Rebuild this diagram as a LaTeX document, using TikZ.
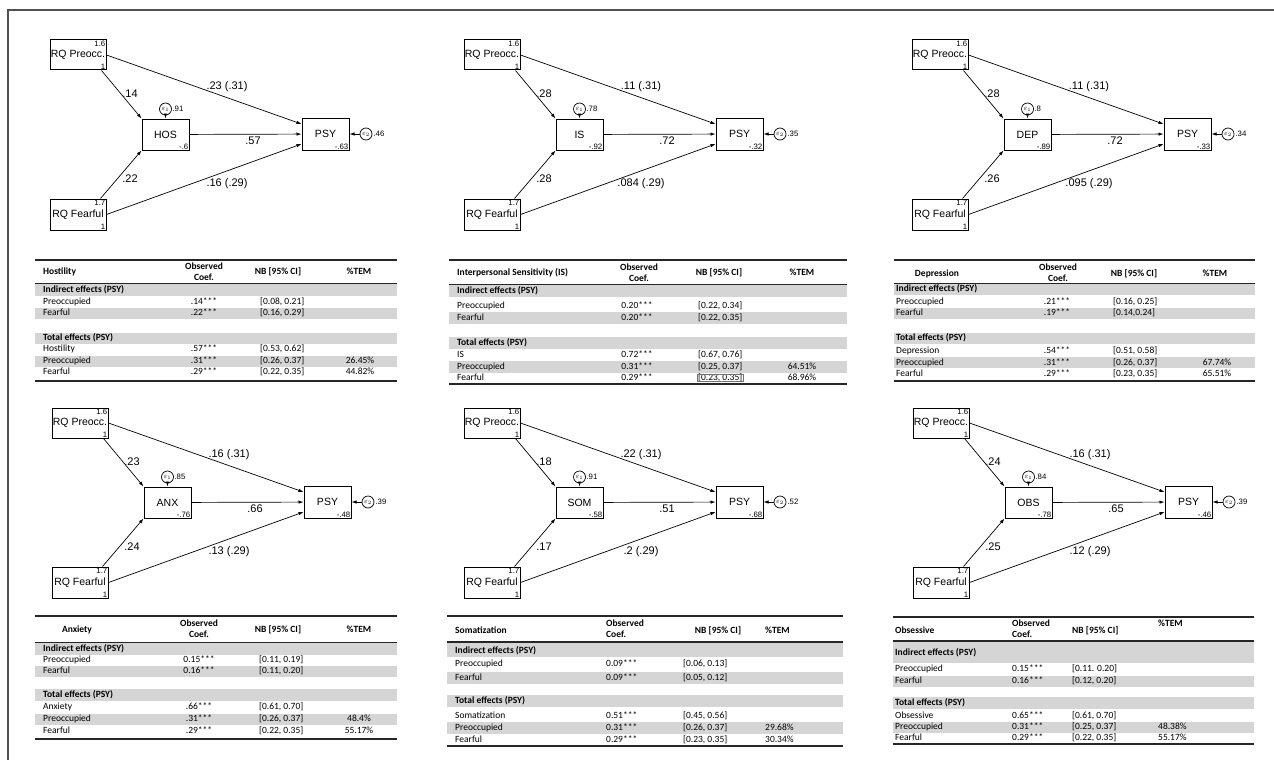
\documentclass[tikz,border=0pt]{standalone}
\usepackage{fontspec}
\setmainfont{Carlito}
\newfontfamily\statafont{Liberation Sans}
\usetikzlibrary{arrows.meta}
\usetikzlibrary{positioning}

\definecolor{bandgray}{HTML}{D5D5D5}
\definecolor{framegray}{HTML}{505050}

\tikzset{
  var/.style={draw, line width=1pt, inner sep=0pt, font=\statafont\fontsize{10.5}{12}\selectfont},
  corner/.style={inner sep=1pt, font=\statafont\fontsize{7.8}{8}\selectfont},
  errc/.style={draw, circle, line width=0.7pt, minimum size=12pt, inner sep=0pt, font=\fontsize{7}{7}\selectfont},
  coef/.style={inner sep=0pt, font=\statafont\fontsize{11}{12}\selectfont},
  conn/.style={line width=0.7pt, arrows=-{Latex[length=5pt,width=3.4pt]}},
  cell/.style={inner sep=0pt, text height=6.5pt, text depth=2pt, font=\fontsize{9.5}{11}\selectfont},
  hd/.style={cell, font=\fontsize{9.5}{11}\selectfont\bfseries},
  hdm/.style={inner sep=0pt, font=\fontsize{9.5}{11}\selectfont\bfseries},
  band/.style={fill=bandgray},
  toprule/.style={line width=1.3pt, draw=black!85},
  midrule/.style={line width=0.9pt, draw=black!85},
}

\begin{document}
\begin{tikzpicture}[x=1pt, y=-1pt]
  \fill[white] (0,0) rectangle (1274,760);
  \useasboundingbox (0,0) rectangle (1274,760);
  \draw[framegray, line width=1.5pt] (8,760) -- (8,10) -- (1274,10);

  % path models
  \foreach \ox/\oy/\mname/\mint/\pint/\eone/\etwo/\pam/\fam/\pdir/\fdir/\mps in {
      0/0/HOS/-.6/-.63/.91/.46/.14/.22/.23 (.31)/.16 (.29)/.57,
      414/0/IS/-.92/-.32/.78/.35/.28/.28/.11 (.31)/.084 (.29)/.72,
      862/0/DEP/-.89/-.33/.8/.34/.28/.26/.11 (.31)/.095 (.29)/.72,
      2/368/ANX/-.76/-.48/.85/.39/.23/.24/.16 (.31)/.13 (.29)/.66,
      414/368/SOM/-.58/-.68/.91/.52/.18/.17/.22 (.31)/.2 (.29)/.51,
      863/368/OBS/-.78/-.46/.84/.39/.24/.25/.16 (.31)/.12 (.29)/.65}{
    \begin{scope}[shift={(\ox,\oy)}]
      \node[var, minimum width=56pt, minimum height=30pt] (pre) at (78,55) {RQ Preocc.};
      \node[var, minimum width=56pt, minimum height=31pt] (fear) at (78,214.5) {RQ Fearful};
      \node[var, minimum width=47pt, minimum height=31pt] (med) at (165.5,134.5) {\mname};
      \node[var, minimum width=47pt, minimum height=32pt] (psy) at (325.5,134) {PSY};
      \node[corner, anchor=north east] (pre-m) at (pre.north east) {1.6};
      \node[corner, anchor=south east] (pre-v) at (pre.south east) {1};
      \node[corner, anchor=north east] (fear-m) at (fear.north east) {1.7};
      \node[corner, anchor=south east] (fear-v) at (fear.south east) {1};
      \node[corner, anchor=south east] (med-c) at (med.south east) {\mint};
      \node[corner, anchor=south east] (psy-c) at (psy.south east) {\pint};
      \node[errc] (e1) at (165.5,109) {$\varepsilon_1$};
      \node[errc] (e2) at (366,134) {$\varepsilon_2$};
      \node[corner, anchor=west, inner sep=0.5pt] (e1-v) at (e1.east) {\eone};
      \node[corner, anchor=west] (e2-v) at (e2.east) {\etwo};
      \draw[conn] (e1) -- (med);
      \draw[conn] (e2) -- (psy);
      \draw[conn] ([xshift=-5pt]pre.south east) -- (med.north west);
      \draw[conn] ([xshift=-6pt]fear.north east) -- (med.south west);
      \draw[conn] (pre.east) -- ([yshift=10pt]psy.west);
      \draw[conn] (fear.east) -- ([yshift=-10pt]psy.west);
      \draw[conn] (med) -- (psy);
      \node[coef] (l-pm) at (130,94) {\pam};
      \node[coef] (l-fm) at (130,179) {\fam};
      \node[coef] (l-pp) at (227,87) {\pdir};
      \node[coef] (l-fp) at (227,184) {\fdir};
      \node[coef] (l-mp) at (253,141) {\mps};
    \end{scope}}

  % Hostility
  \fill[band] (35,284) rectangle (397,295.5);
  \fill[band] (35,307.5) rectangle (397,318.5);
  \fill[band] (35,332.5) rectangle (397,343.5);
  \fill[band] (35,355.5) rectangle (397,366.5);
  \draw[toprule] (35,260) -- (397,260);
  \draw[midrule] (35,283) -- (397,283);
  \draw[toprule] (35,381) -- (397,381);
  \node[hd, anchor=west] (hos-h) at (43,272) {Hostility};
  \node[hdm, align=center] (hos-o) at (204,272) {Observed\\Coef.};
  \node[hd] (hos-n) at (278,272) {NB [95\% CI]};
  \node[hd] (hos-t) at (359,272) {\%TEM};
  \node[hd, anchor=west] (hos-i) at (43,290) {Indirect effects (PSY)};
  \node[hd, anchor=west] (hos-s) at (43,338) {Total effects (PSY)};
  \foreach \y/\lab/\val/\ci/\tem [count=\i] in {302/Preoccupied/.14***/{[0.08, 0.21]}/{}, 313/Fearful/.22***/{[0.16, 0.29]}/{}, 349/Hostility/.57***/{[0.53, 0.62]}/{}, 361/Preoccupied/.31***/{[0.26, 0.37]}/26.45\%, 372/Fearful/.29***/{[0.22, 0.35]}/44.82\%}{
    \node[cell, anchor=west] (hos-l\i) at (43,\y) {\lab};
    \node[cell] (hos-c\i) at (204,\y) {\val};
    \node[cell, anchor=west] (hos-r\i) at (260,\y) {\ci};
    \node[cell] (hos-p\i) at (360,\y) {\tem};
  }

  % Interpersonal sensitivity
  \fill[band] (449,285) rectangle (847,297);
  \fill[band] (449,312) rectangle (847,324);
  \fill[band] (449,337) rectangle (847,349);
  \fill[band] (449,361) rectangle (847,373);
  \draw[toprule] (449,260) -- (847,260);
  \draw[midrule] (449,284) -- (847,284);
  \draw[toprule] (449,384) -- (847,384);
  \node[hd, anchor=west] (is-h) at (457,273) {Interpersonal Sensitivity (IS)};
  \node[hdm, align=center] (is-o) at (639,273) {Observed\\Coef.};
  \node[hd] (is-n) at (719,273) {NB [95\% CI]};
  \node[hd] (is-t) at (802,273) {\%TEM};
  \node[hd, anchor=west] (is-i) at (457,291) {Indirect effects (PSY)};
  \node[hd, anchor=west] (is-s) at (457,343) {Total effects (PSY)};
  \foreach \y/\lab/\val/\ci/\tem [count=\i] in {306/Preoccupied/0.20***/{[0.22, 0.34]}/{}, 318/Fearful/0.20***/{[0.22, 0.35]}/{}, 355/IS/0.72***/{[0.67, 0.76]}/{}, 367/Preoccupied/0.31***/{[0.25, 0.37]}/64.51\%, 378/Fearful/0.29***/{[0.23, 0.35]}/68.96\%}{
    \node[cell, anchor=west] (is-l\i) at (457,\y) {\lab};
    \node[cell] (is-c\i) at (637,\y) {\val};
    \node[cell, anchor=west] (is-r\i) at (698,\y) {\ci};
    \node[cell] (is-p\i) at (802,\y) {\tem};
  }
  \draw[line width=0.4pt, black!55] ([shift={(-1pt,1pt)}]is-r5.south west) rectangle ([shift={(1pt,-1pt)}]is-r5.north east);

  % Depression
  \fill[band] (894,284) rectangle (1255,295);
  \fill[band] (894,308) rectangle (1255,319);
  \fill[band] (894,333) rectangle (1255,344);
  \fill[band] (894,357) rectangle (1255,368);
  \draw[toprule] (894,260) -- (1255,260);
  \draw[midrule] (894,283) -- (1255,283);
  \draw[toprule] (894,381) -- (1255,381);
  \node[hd] (dep-h) at (937,274) {Depression};
  \node[hdm, align=center] (dep-o) at (1058,273) {Observed\\Coef.};
  \node[hd] (dep-n) at (1134,274) {NB [95\% CI]};
  \node[hd] (dep-t) at (1215,274) {\%TEM};
  \node[hd, anchor=west] (dep-i) at (896,289) {Indirect effects (PSY)};
  \node[hd, anchor=west] (dep-s) at (896,338) {Total effects (PSY)};
  \foreach \y/\lab/\val/\ci/\tem [count=\i] in {302/Preoccupied/.21***/{[0.16, 0.25]}/{}, 313/Fearful/.19***/{[0.14,0.24]}/{}, 351/Depression/.54***/{[0.51, 0.58]}/{}, 363/Preoccupied/.31***/{[0.26, 0.37]}/67.74\%, 374/Fearful/.29***/{[0.23, 0.35]}/65.51\%}{
    \node[cell, anchor=west] (dep-l\i) at (896,\y) {\lab};
    \node[cell] (dep-c\i) at (1057,\y) {\val};
    \node[cell, anchor=west] (dep-r\i) at (1113,\y) {\ci};
    \node[cell] (dep-p\i) at (1217,\y) {\tem};
  }

  % Anxiety
  \fill[band] (35,643) rectangle (397,655);
  \fill[band] (35,665.5) rectangle (397,676.5);
  \fill[band] (35,689) rectangle (397,701);
  \fill[band] (35,713.5) rectangle (397,724.5);
  \draw[toprule] (35,616) -- (397,616);
  \draw[midrule] (35,642) -- (397,642);
  \draw[toprule] (35,739) -- (397,739);
  \node[hd] (anx-h) at (77,630) {Anxiety};
  \node[hdm, align=center] (anx-o) at (199,629) {Observed\\Coef.};
  \node[hd] (anx-n) at (278,630) {NB [95\% CI]};
  \node[hd] (anx-t) at (359,630) {\%TEM};
  \node[hd, anchor=west] (anx-i) at (43,649) {Indirect effects (PSY)};
  \node[hd, anchor=west] (anx-s) at (43,695) {Total effects (PSY)};
  \foreach \y/\lab/\val/\ci/\tem [count=\i] in {660/Preoccupied/0.15***/{[0.11, 0.19]}/{}, 671/Fearful/0.16***/{[0.11, 0.20]}/{}, 707/Anxiety/.66***/{[0.61, 0.70]}/{}, 719/Preoccupied/.31***/{[0.26, 0.37]}/48.4\%, 731/Fearful/.29***/{[0.22, 0.35]}/55.17\%}{
    \node[cell, anchor=west] (anx-l\i) at (43,\y) {\lab};
    \node[cell] (anx-c\i) at (199,\y) {\val};
    \node[cell, anchor=west] (anx-r\i) at (259,\y) {\ci};
    \node[cell] (anx-p\i) at (359,\y) {\tem};
  }

  % Somatization
  \fill[band] (447,643) rectangle (843,657);
  \fill[band] (447,672) rectangle (843,684);
  \fill[band] (447,695) rectangle (843,707);
  \fill[band] (447,722) rectangle (843,734);
  \draw[toprule] (447,616) -- (843,616);
  \draw[toprule] (447,642) -- (843,642);
  \draw[toprule] (447,746) -- (843,746);
  \node[hd, anchor=west] (som-h) at (455,631) {Somatization};
  \node[hdm, align=left, anchor=west] (som-o) at (606,629) {Observed\\Coef.};
  \node[hd] (som-n) at (718,631) {NB [95\% CI]};
  \node[hd, anchor=west] (som-t) at (765,631) {\%TEM};
  \node[hd, anchor=west] (som-i) at (455,651) {Indirect effects (PSY)};
  \node[hd, anchor=west] (som-s) at (455,701) {Total effects (PSY)};
  \foreach \y/\lab/\val/\ci/\tem [count=\i] in {664/Preoccupied/0.09***/{[0.06, 0.13]}/{}, 678/Fearful/0.09***/{[0.05, 0.12]}/{}, 716/Somatization/0.51***/{[0.45, 0.56]}/{}, 728/Preoccupied/0.31***/{[0.26, 0.37]}/29.68\%, 740/Fearful/0.29***/{[0.23, 0.35]}/30.34\%}{
    \node[cell, anchor=west] (som-l\i) at (455,\y) {\lab};
    \node[cell, anchor=west] (som-c\i) at (606,\y) {\val};
    \node[cell, anchor=west] (som-r\i) at (683,\y) {\ci};
    \node[cell, anchor=west] (som-p\i) at (765,\y) {\tem};
  }

  % Obsessive
  \fill[band] (893,642) rectangle (1254,663);
  \fill[band] (893,675.5) rectangle (1254,686.5);
  \fill[band] (893,697) rectangle (1254,709);
  \fill[band] (893,721.5) rectangle (1254,732.5);
  \draw[toprule] (893,617) -- (1254,617);
  \draw[toprule] (893,641) -- (1254,641);
  \draw[toprule] (893,744) -- (1254,744);
  \node[hd, anchor=west] (obs-h) at (895,631) {Obsessive};
  \node[hdm, align=left, anchor=west] (obs-o) at (1012,629) {Observed\\Coef.};
  \node[hd, anchor=west] (obs-n) at (1072,631) {NB [95\% CI]};
  \node[hd, anchor=west] (obs-t) at (1158,624) {\%TEM};
  \node[hd, anchor=west] (obs-i) at (895,653) {Indirect effects (PSY)};
  \node[hd, anchor=west] (obs-s) at (895,703) {Total effects (PSY)};
  \foreach \y/\lab/\val/\ci/\tem [count=\i] in {669/Preoccupied/0.15***/{[0.11. 0.20]}/{}, 681/Fearful/0.16***/{[0.12, 0.20]}/{}, 716/Obsessive/0.65***/{[0.61, 0.70]}/{}, 727/Preoccupied/0.31***/{[0.25, 0.37]}/48.38\%, 738/Fearful/0.29***/{[0.22, 0.35]}/55.17\%}{
    \node[cell, anchor=west] (obs-l\i) at (895,\y) {\lab};
    \node[cell, anchor=west] (obs-c\i) at (1012,\y) {\val};
    \node[cell, anchor=west] (obs-r\i) at (1072,\y) {\ci};
    \node[cell, anchor=west] (obs-p\i) at (1158,\y) {\tem};
  }
\end{tikzpicture}
\end{document}
